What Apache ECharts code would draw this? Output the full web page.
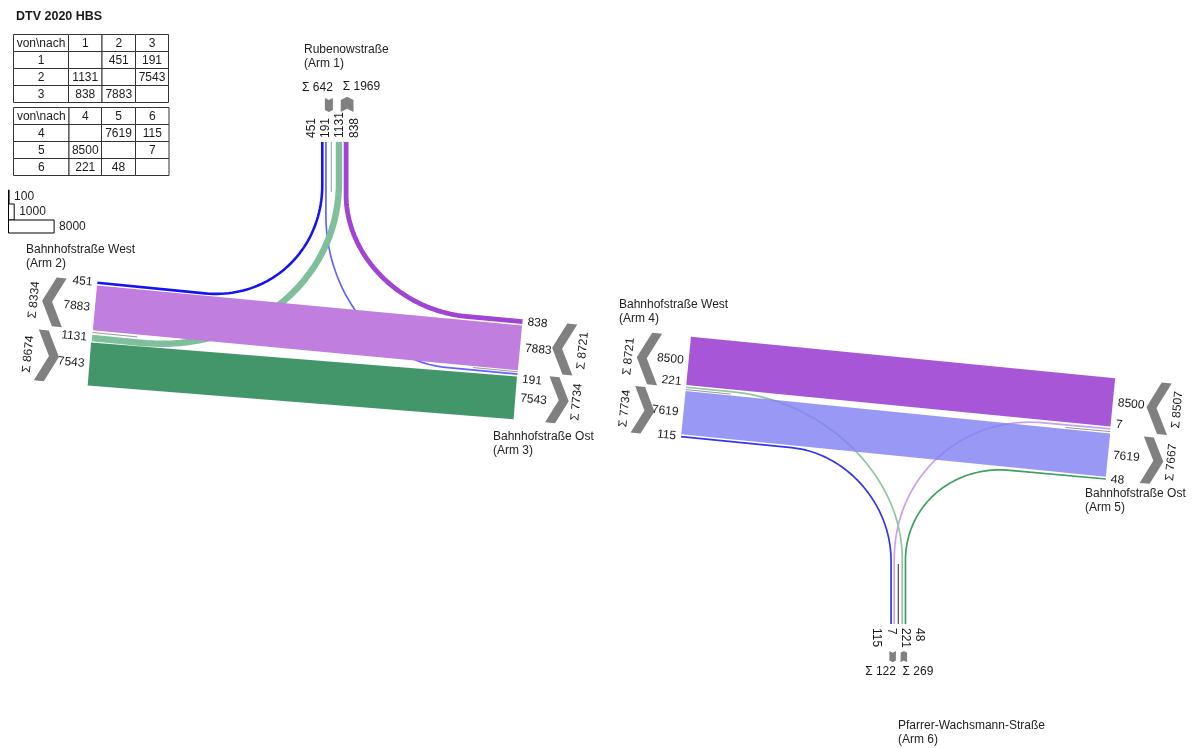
<!DOCTYPE html>
<html><head><meta charset="utf-8">
<script src="https://cdn.jsdelivr.net/npm/echarts@6/dist/echarts.min.js"></script>
<style>html,body{margin:0;padding:0;background:#fff}#c{width:1199px;height:748px}</style>
</head><body><div id="c"></div>
<script>
// ---------------- data ----------------
const TITLE = 'DTV 2020 HBS';
const ARM_NAMES = ['Rubenowstraße', 'Bahnhofstraße West', 'Bahnhofstraße Ost', 'Bahnhofstraße West', 'Bahnhofstraße Ost', 'Pfarrer-Wachsmann-Straße'];
const ARM_IDS = ['(Arm 1)', '(Arm 2)', '(Arm 3)', '(Arm 4)', '(Arm 5)', '(Arm 6)'];
const NODES_A = [1, 2, 3];
const NODES_B = [4, 5, 6];
// von (row) \ nach (column)
const FLOWS_A = [
  [null, 451, 191],
  [1131, null, 7543],
  [838, 7883, null]
];
const FLOWS_B = [
  [null, 7619, 115],
  [8500, null, 7],
  [221, 48, null]
];
const LEGEND_VALUES = [100, 1000, 8000];
const TABLE_HEADER = 'von\\nach';

// ---------------- layout / style ----------------
const SCALE = 0.0057, MINW = 1.7, LANE_GAP = 1.5;
const FONT = '"Liberation Sans", Arial, sans-serif';
const ARM_LAYOUT = {
  1: {p: [321, 142], c: [1, 0], side: 'R', gap: 9, lanes: [[1,2],[1,3],[2,1],[3,1]], vertical: true, chevV: 30, chevT: 12, chevShift: 5, chevMin: 8, labShift: -2, sepLen: 50, sepColor: '#9a9a9a', name: [304, 50]},
  2: {p: [97.5, 281.5], c: [-10.5, 106.8], side: 'L', gap: 4.5, lanes: [[1,2],[3,2],[2,1],[2,3]], chevV: 31, chevT: 10, sepLen: 45, sepColor: '#9a9a9a', name: [26, 250]},
  3: {p: [522.7, 319.3], c: [-9.7, 102.4], side: 'R', gap: 3, lanes: [[3,1],[3,2],[1,3],[2,3]], chevV: 32, chevT: 10, sepLen: 45, sepColor: '#9a9a9a', name: [493, 437]},
  4: {p: [691, 336.7], c: [-10, 100.3], side: 'L', gap: 3, lanes: [[5,4],[6,4],[4,5],[4,6]], chevV: 29, chevT: 10, sepLen: 45, sepColor: '#9a9a9a', name: [619, 305]},
  5: {p: [1115, 378.3], c: [-9, 99], side: 'R', gap: 3.7, lanes: [[5,4],[5,6],[4,5],[6,5]], chevV: 34, chevT: 10, sepLen: 45, sepColor: '#9a9a9a', name: [1085, 494]},
  6: {p: [890.2, 624], c: [1, 0], side: 'L', gap: 6.3, lanes: [[4,6],[5,6],[6,4],[6,5]], vertical: true, chevV: 27, chevT: 9.5, chevShift: 0, chevMin: 6.5, labShift: 0, sepLen: 60, sepColor: '#222', name: [898, 726]}
};
const FLOW_STYLE = {
  '1-2': {color: '#1414ee', turn: [120, 118]},
  '1-3': {color: '#6262ff', turn: [140, 120]},
  '2-1': {color: '#80bf9c', turn: [200, 180]},
  '2-3': {color: '#43966a'},
  '3-1': {color: '#a044d4', turn: [120, 110]},
  '3-2': {color: '#c07ede'},
  '4-5': {color: '#8080f2', opacity: 0.8},
  '4-6': {color: '#3434f2', turn: [100, 103]},
  '5-4': {color: '#a656d6'},
  '5-6': {color: '#c8a2ee', turn: [150, 150]},
  '6-4': {color: '#92c4a6', turn: [150, 170]},
  '6-5': {color: '#3f9e62', turn: [100, 105]}
};
const TABLE_LAYOUT = [
  {x: [13.5, 68.5, 102, 135.5, 168.5], y0: 34.5, h: 17},
  {x: [13.5, 69, 101.5, 135.5, 169], y0: 107.5, h: 17}
];
const LEGEND_LAYOUT = {x: 8.5, y: [190, 204, 220], h: [14, 16, 13]};

// ---------------- helpers ----------------
const add = (a, b) => [a[0] + b[0], a[1] + b[1]];
const mul = (a, k) => [a[0] * k, a[1] * k];
const norm = a => { const l = Math.hypot(a[0], a[1]); return [a[0] / l, a[1] / l]; };
function flowValue(f, t) { return f <= 3 ? FLOWS_A[f - 1][t - 1] : FLOWS_B[f - 4][t - 4]; }
function laneW(v) { return Math.max(MINW, v * SCALE); }
function intersect(p, d, q, e) {
  const den = d[0] * e[1] - d[1] * e[0];
  const w = [q[0] - p[0], q[1] - p[1]];
  return {s: (w[0] * e[1] - w[1] * e[0]) / den, t: (w[0] * d[1] - w[1] * d[0]) / den};
}
function bez(a, b, c, d, t) {
  const u = 1 - t;
  return [u*u*u*a[0] + 3*u*u*t*b[0] + 3*u*t*t*c[0] + t*t*t*d[0],
          u*u*u*a[1] + 3*u*u*t*b[1] + 3*u*t*t*c[1] + t*t*t*d[1]];
}

// ---------------- arms ----------------
const ARMS = {};
Object.keys(ARM_LAYOUT).forEach(k => {
  const L = ARM_LAYOUT[k];
  const c = norm(L.c);
  const o = L.side === 'L' ? [-c[1], c[0]] : [c[1], -c[0]];
  let u = 0; const lanes = [];
  L.lanes.forEach((ft, i) => {
    if (i === 2) u += L.gap; else if (i > 0) u += LANE_GAP;
    const v = flowValue(ft[0], ft[1]); const w = laneW(v);
    lanes.push({from: ft[0], to: ft[1], v, w, u0: u, u1: u + w, uc: u + w / 2});
    u += w;
  });
  ARMS[k] = Object.assign({}, L, {id: +k, c, o, lanes, span: u});
});
function pt(arm, u, v) { return [arm.p[0] + arm.c[0] * u + arm.o[0] * v, arm.p[1] + arm.c[1] * u + arm.o[1] * v]; }

// ---------------- flows ----------------
const FLOW_ITEMS = [];
[[NODES_A, FLOWS_A], [NODES_B, FLOWS_B]].forEach(([nodes, M]) => {
  nodes.forEach((f, i) => nodes.forEach((t, j) => {
    const v = M[i][j]; if (v == null) return;
    const a = ARMS[f], b = ARMS[t];
    const la = a.lanes.find(l => l.from === f && l.to === t);
    const lb = b.lanes.find(l => l.from === f && l.to === t);
    const E1 = pt(a, la.uc, 0), E2 = pt(b, lb.uc, 0);
    const in1 = mul(a.o, -1), in2 = mul(b.o, -1);
    const st = FLOW_STYLE[f + '-' + t];
    const den = in1[0] * in2[1] - in1[1] * in2[0];
    let pts, through = false;
    if (Math.abs(den) < 0.05) { pts = [E1, E2]; through = true; }
    else {
      const r = intersect(E1, in1, E2, in2);
      const a1 = Math.max(0, r.s - st.turn[0]), b1 = Math.max(0, r.t - st.turn[1]);
      const T1 = add(E1, mul(in1, a1)), T2 = add(E2, mul(in2, b1));
      const C1 = add(T1, mul(in1, 0.55 * (r.s - a1))), C2 = add(T2, mul(in2, 0.55 * (r.t - b1)));
      pts = [E1];
      for (let k = 0; k <= 48; k++) pts.push(bez(T1, C1, C2, T2, k / 48));
      pts.push(E2);
    }
    FLOW_ITEMS.push({pts, w: laneW(v), color: st.color, opacity: st.opacity || 1, z2: through ? 20 : 10});
  }));
});

// ---------------- overlay items ----------------
const OV = [];
function addText(p, text, o) { OV.push(Object.assign({kind: 'text', p, text}, o || {})); }

Object.values(ARMS).forEach(arm => {
  const um = arm.lanes[1].u1 + arm.gap / 2;
  OV.push({kind: 'line', a: pt(arm, um, 0), b: pt(arm, um, -arm.sepLen), color: arm.sepColor, w: 1});
  [0, 1].forEach(g => {
    const l0 = arm.lanes[2 * g], l1 = arm.lanes[2 * g + 1];
    let u0 = l0.u0, u1 = l1.u1;
    if (arm.vertical) {
      const cc = (u0 + u1) / 2 + arm.chevShift, ww = Math.max(arm.chevMin, u1 - u0);
      u0 = cc - ww / 2; u1 = cc + ww / 2;
    }
    const um2 = (u0 + u1) / 2;
    const d = 0.25 * (u1 - u0), t = arm.chevT, vmin = arm.chevV, vmax = vmin + t + d;
    const outward = l0.to === arm.id;
    const uv = outward
      ? [[u0, vmin], [um2, vmax - t], [u1, vmin], [u1, vmin + t], [um2, vmax], [u0, vmin + t]]
      : [[u0, vmax], [um2, vmin + t], [u1, vmax], [u1, vmax - t], [um2, vmin], [u0, vmax - t]];
    OV.push({kind: 'poly', pts: uv.map(q => pt(arm, q[0], q[1])), color: '#808080'});
    const sum = 'Σ ' + (l0.v + l1.v);
    if (arm.vertical) {
      if (g === 0) addText(pt(arm, u1, vmax + 10), sum, {align: 'right'});
      else addText(pt(arm, u0 + 2, vmax + 10), sum, {align: 'left'});
    } else {
      addText(pt(arm, um2, vmax + 8), sum, {align: 'center', rot: Math.atan2(arm.c[1], -arm.c[0])});
    }
  });
  arm.lanes.forEach((l, i) => {
    if (arm.vertical) {
      const u = arm.span / 2 + arm.labShift + (i - 1.5) * 14.3;
      const up = arm.o[1] < 0;
      addText(pt(arm, u, 4), l.v, {align: 'left', rot: up ? Math.PI / 2 : -Math.PI / 2});
    } else {
      let u = l.uc;
      if (l.v < 500 && i === 1) u -= 5;
      if (l.v < 500 && i === 2) u += 5;
      const dir = arm.o[0] > 0 ? arm.o : mul(arm.o, -1);
      addText(pt(arm, u, 5), l.v, {align: arm.o[0] < 0 ? 'right' : 'left', rot: Math.atan2(-dir[1], dir[0])});
    }
  });
  addText(arm.name, ARM_NAMES[arm.id - 1], {align: 'left', color: '#222'});
  addText([arm.name[0], arm.name[1] + 14], ARM_IDS[arm.id - 1], {align: 'left', color: '#222'});
});

addText([16, 17], TITLE, {bold: true, size: 12.5});

[[NODES_A, FLOWS_A], [NODES_B, FLOWS_B]].forEach(([nodes, M], ti) => {
  const T = TABLE_LAYOUT[ti];
  for (let r = 0; r < 4; r++) for (let c = 0; c < 4; c++) {
    const x0 = T.x[c], x1 = T.x[c + 1], y0 = T.y0 + r * T.h;
    OV.push({kind: 'rect', x: x0, y: y0, w: x1 - x0, h: T.h, stroke: '#333', fill: '#fff'});
    let txt = '';
    if (r === 0 && c === 0) txt = TABLE_HEADER;
    else if (r === 0) txt = nodes[c - 1];
    else if (c === 0) txt = nodes[r - 1];
    else { const v = M[r - 1][c - 1]; txt = v == null ? '' : v; }
    if (txt !== '') addText([(x0 + x1) / 2, y0 + T.h / 2 + 0.5], txt, {align: 'center'});
  }
});

LEGEND_VALUES.forEach((v, i) => {
  const w = v * SCALE;
  OV.push({kind: 'rect', x: LEGEND_LAYOUT.x, y: LEGEND_LAYOUT.y[i], w, h: LEGEND_LAYOUT.h[i], stroke: '#000', fill: i === 0 ? '#000' : '#fff'});
  addText([LEGEND_LAYOUT.x + w + 5, LEGEND_LAYOUT.y[i] + LEGEND_LAYOUT.h[i] / 2], v, {align: 'left'});
});

// ---------------- render ----------------
function drawFlow(it, api) {
  const pts = it.pts.map(p => api.coord(p));
  const lw = api.size([it.w, it.w])[0];
  return {type: 'polyline', z2: it.z2, shape: {points: pts},
    style: {stroke: it.color, lineWidth: lw, fill: 'none', opacity: it.opacity, lineJoin: 'round', lineCap: 'butt'}};
}
function drawOverlay(it, api) {
  if (it.kind === 'line') {
    const a = api.coord(it.a), b = api.coord(it.b);
    return {type: 'line', z2: 30, shape: {x1: a[0], y1: a[1], x2: b[0], y2: b[1]}, style: {stroke: it.color, lineWidth: it.w}};
  }
  if (it.kind === 'poly') {
    return {type: 'polygon', z2: 30, shape: {points: it.pts.map(p => api.coord(p))}, style: {fill: it.color, stroke: 'none'}};
  }
  if (it.kind === 'rect') {
    const a = api.coord([it.x, it.y]); const s = api.size([it.w, it.h]);
    return {type: 'rect', z2: 30, shape: {x: a[0], y: a[1], width: s[0], height: s[1]}, style: {fill: it.fill, stroke: it.stroke, lineWidth: 1}};
  }
  const q = api.coord(it.p);
  const al = it.align || 'left', va = 'middle';
  const col = it.color || '#1a1a1a';
  return {type: 'text', z2: 60, x: q[0], y: q[1], rotation: it.rot || 0,
    style: {text: String(it.text), x: 0, y: 0, fill: col, textFill: col,
      font: (it.bold ? 'bold ' : '') + (it.size || 12) + 'px ' + FONT,
      align: al, verticalAlign: va, textAlign: al, textVerticalAlign: va}};
}
function mkSeries(name, items, draw, z) {
  return {type: 'custom', name, coordinateSystem: 'cartesian2d', clip: false, silent: true, z,
    data: items.map((_, i) => [i, 0]),
    renderItem: (params, api) => draw(items[params.dataIndex], api)};
}

const chart = echarts.init(document.getElementById('c'), null, {renderer: 'canvas'});
chart.setOption({
  animation: false,
  backgroundColor: '#fff',
  grid: {left: 0, right: 0, top: 0, bottom: 0},
  xAxis: {type: 'value', min: 0, max: 1199, show: false},
  yAxis: {type: 'value', min: 0, max: 748, inverse: true, show: false},
  series: [
    mkSeries('flows', FLOW_ITEMS, drawFlow, 2),
    mkSeries('overlay', OV, drawOverlay, 3)
  ]
});
</script>
</body></html>
